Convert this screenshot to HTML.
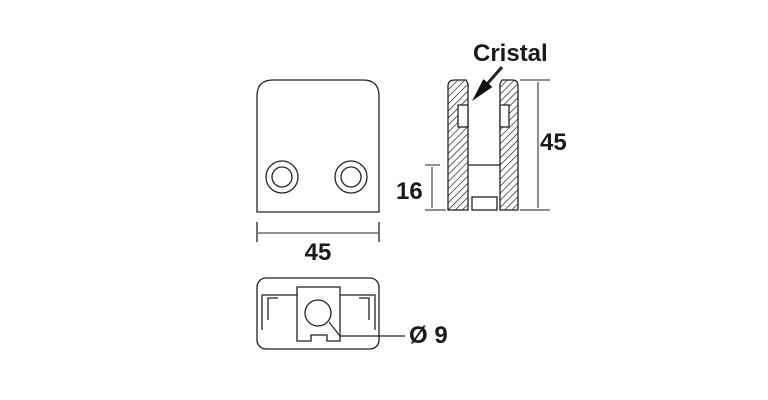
<!DOCTYPE html>
<html><head><style>body{margin:0;background:#fff}svg{display:block}</style></head><body>
<svg width="768" height="400" viewBox="0 0 768 400" xmlns="http://www.w3.org/2000/svg" font-family="Liberation Sans, sans-serif">
<defs>
<pattern id="h" patternUnits="userSpaceOnUse" width="5" height="5" patternTransform="rotate(45)">
<rect width="5" height="5" fill="#fff"/><line x1="0" y1="0" x2="0" y2="5" stroke="#111" stroke-width="1.3"/></pattern>
<marker id="a" markerWidth="8" markerHeight="8" refX="4" refY="4" orient="auto"><path d="M0,2 L8,4 L0,6z" fill="#111"/></marker>
</defs>
<g fill="none" stroke="#222" stroke-width="1.3">
<path d="M257,212 V96 Q257,80 273,80 H363 Q379,80 379,96 V212 Z"/>
<circle cx="282" cy="177" r="16"/><circle cx="282" cy="177" r="10"/>
<circle cx="351" cy="177" r="16"/><circle cx="351" cy="177" r="10"/>
<line x1="257" y1="222" x2="257" y2="242"/><line x1="379" y1="222" x2="379" y2="242"/>
<line x1="258" y1="233" x2="378" y2="233" stroke-width="1"/>
<path d="M448,210 V86 Q448,80 455,80 H466 L468,84 V210 Z" fill="url(#h)"/>
<path d="M500,210 V84 L502,80 H512 Q518,80 518,86 V210 Z" fill="url(#h)"/>
<rect x="458" y="105" width="10" height="22" fill="#fff"/>
<rect x="500" y="105" width="9" height="22" fill="#fff"/>
<line x1="468" y1="165" x2="500" y2="165"/>
<rect x="472" y="197" width="25" height="13" fill="#fff"/>
<line x1="520" y1="80" x2="550" y2="80" stroke-width="1"/><line x1="520" y1="210" x2="550" y2="210" stroke-width="1"/>
<line x1="538" y1="82" x2="538" y2="208" stroke-width="1"/>
<line x1="425" y1="165" x2="440" y2="165" stroke-width="1"/><line x1="425" y1="210" x2="446" y2="210" stroke-width="1"/>
<line x1="432" y1="167" x2="432" y2="208" stroke-width="1"/>
<line x1="502" y1="67" x2="480" y2="92" stroke-width="3" marker-end="url(#a)"/>
<rect x="257" y="278" width="122" height="71" rx="9"/>
<path d="M262,330 V295 H297 V287 H340 V295 H375 V330"/>
<path d="M268,320 V298 H278"/><path d="M369,320 V298 H359"/>
<path d="M297,295 V341 H311 V335 H327 V341 H340 V295"/>
<circle cx="318" cy="313" r="13"/>
<path d="M329,322 L340,336 H405" stroke-width="1.2"/>
</g>
<g font-weight="bold" fill="#1a1a1a" font-size="24">
<text x="318" y="260" text-anchor="middle">45</text>
<text x="540" y="150">45</text>
<text x="396" y="199">16</text>
<text x="473" y="61">Cristal</text>
<text x="409" y="343">Ø 9</text>
</g>
</svg>
</body></html>
